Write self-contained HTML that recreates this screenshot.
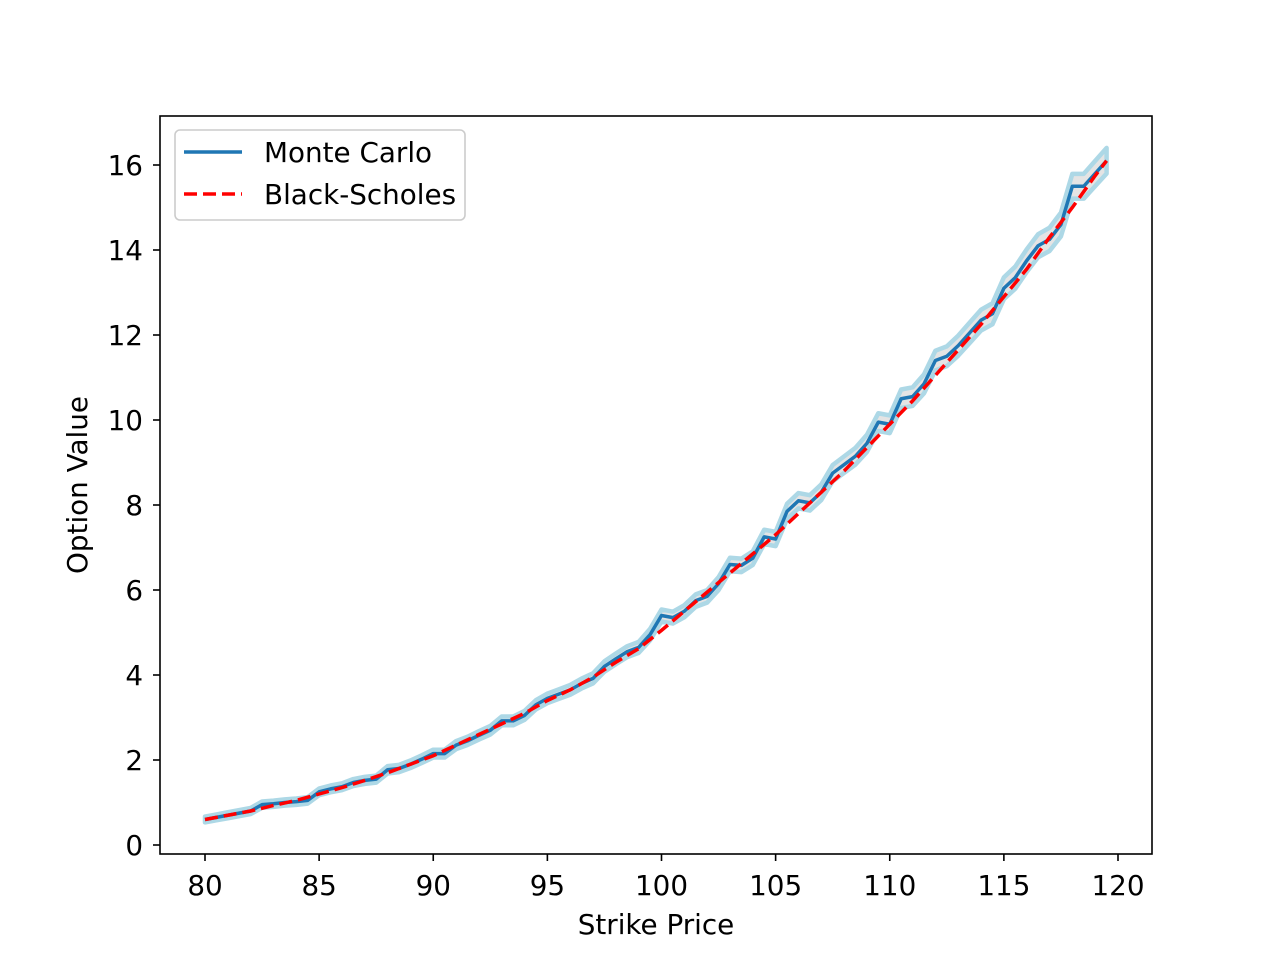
<!DOCTYPE html>
<html><head><meta charset="utf-8"><style>
html,body{margin:0;padding:0;background:#fff;}
svg{display:block;font-family:"DejaVu Sans","Liberation Sans",sans-serif;}
</style></head><body>
<svg id="chart" width="1280" height="960" viewBox="0 0 1280 960">
<rect x="0" y="0" width="1280" height="960" fill="#fff"/>
<g id="plot"></g>
<rect x="160" y="116" width="992" height="738" fill="none" stroke="#000" stroke-width="1.6"/>
<g id="xticks"></g><g id="yticks"></g>
<text x="656" y="934" text-anchor="middle" font-size="27.8">Strike Price</text>
<text transform="translate(87,485) rotate(-90)" text-anchor="middle" font-size="27.8">Option Value</text>
<g>
<rect x="175" y="130" width="290" height="90" rx="5" fill="#fff" fill-opacity="0.8" stroke="#ccc" stroke-width="1.6"/>
<g>
<line x1="184" y1="152" x2="242" y2="152" stroke="#1f77b4" stroke-width="3.5"/>
<text x="264" y="162" font-size="27.8">Monte Carlo</text></g>
<g>
<line x1="184" y1="194" x2="242" y2="194" stroke="#ff0000" stroke-width="3.5" stroke-dasharray="13,6"/>
<text x="264" y="204" font-size="27.8">Black-Scholes</text></g>
</g>
</svg>
<script>
const mcStrikes = [80,80.5,81,81.5,82,82.5,83,83.5,84,84.5,85,85.5,86,86.5,87,87.5,88,88.5,89,89.5,90,90.5,91,91.5,92,92.5,93,93.5,94,94.5,95,95.5,96,96.5,97,97.5,98,98.5,99,99.5,100,100.5,101,101.5,102,102.5,103,103.5,104,104.5,105,105.5,106,106.5,107,107.5,108,108.5,109,109.5,110,110.5,111,111.5,112,112.5,113,113.5,114,114.5,115,115.5,116,116.5,117,117.5,118,118.5,119,119.5];
const mcValues = [0.6,0.65,0.7,0.75,0.8,0.95,0.97,1.0,1.02,1.05,1.25,1.32,1.37,1.47,1.52,1.55,1.77,1.8,1.9,2.02,2.15,2.15,2.35,2.45,2.58,2.7,2.92,2.92,3.05,3.3,3.45,3.55,3.65,3.8,3.92,4.2,4.38,4.55,4.65,4.95,5.4,5.35,5.5,5.75,5.85,6.15,6.6,6.58,6.75,7.25,7.2,7.85,8.1,8.05,8.3,8.75,8.95,9.15,9.45,9.95,9.9,10.5,10.55,10.85,11.4,11.5,11.75,12.05,12.35,12.5,13.1,13.35,13.75,14.1,14.25,14.6,15.5,15.5,15.8,16.1];
const bsStrikes = [80,81,82,83,84,85,86,87,88,89,90,91,92,93,94,95,96,97,98,99,100,101,102,103,104,105,106,107,108,109,110,111,112,113,114,115,116,117,118,119,119.5];
const bsValues = [0.6,0.7,0.8,0.93,1.05,1.2,1.35,1.52,1.7,1.9,2.1,2.35,2.6,2.85,3.1,3.4,3.65,3.95,4.3,4.62,5.05,5.5,5.95,6.4,6.85,7.3,7.8,8.3,8.8,9.35,9.9,10.45,11.05,11.65,12.25,12.9,13.55,14.3,15.0,15.75,16.1];
const xTicks = [80,85,90,95,100,105,110,115,120];
const yTicks = [0,2,4,6,8,10,12,14,16];
const NS='http://www.w3.org/2000/svg';
const X = v => 205 + (v-80)*(913/40);
const Y = v => 845 - v*42.5;
const mk=(t,a,p)=>{const e=document.createElementNS(NS,t);for(const k in a)e.setAttribute(k,a[k]);p.appendChild(e);return e;};
const plot=document.getElementById('plot');
const hw = v => 0.06 + 0.015*v;
const up = mcStrikes.map((s,i)=>X(s)+','+Y(mcValues[i]+hw(mcValues[i])));
const lo = mcStrikes.map((s,i)=>X(s)+','+Y(mcValues[i]-hw(mcValues[i])));
const band=mk('polygon',{points:up.concat(lo.slice().reverse()).join(' '),fill:'#e4e4e4',stroke:'#add8e6','stroke-width':4.5,'stroke-linejoin':'round'},plot);


const mc=mk('polyline',{points:mcStrikes.map((s,i)=>X(s)+','+Y(mcValues[i])).join(' '),fill:'none',stroke:'#1f77b4','stroke-width':3.5,'stroke-linejoin':'round'},plot);


const bs=mk('polyline',{points:bsStrikes.map((s,i)=>X(s)+','+Y(bsValues[i])).join(' '),fill:'none',stroke:'#ff0000','stroke-width':3.5,'stroke-dasharray':'13,6'},plot);


const xg=document.getElementById('xticks');
xTicks.forEach(t=>{
 const g=mk('g',{},xg);
 
 
 mk('line',{x1:X(t),x2:X(t),y1:854,y2:861,stroke:'#000','stroke-width':1.6},g);
 const tx=mk('text',{x:X(t),y:895,'text-anchor':'middle','font-size':27.8},g);tx.textContent=t;
});
const yg=document.getElementById('yticks');
yTicks.forEach(t=>{
 const g=mk('g',{},yg);
 
 
 mk('line',{x1:153,x2:160,y1:Y(t),y2:Y(t),stroke:'#000','stroke-width':1.6},g);
 const tx=mk('text',{x:143,y:Y(t)+10,'text-anchor':'end','font-size':27.8},g);tx.textContent=t;
});
</script>
</body></html>
